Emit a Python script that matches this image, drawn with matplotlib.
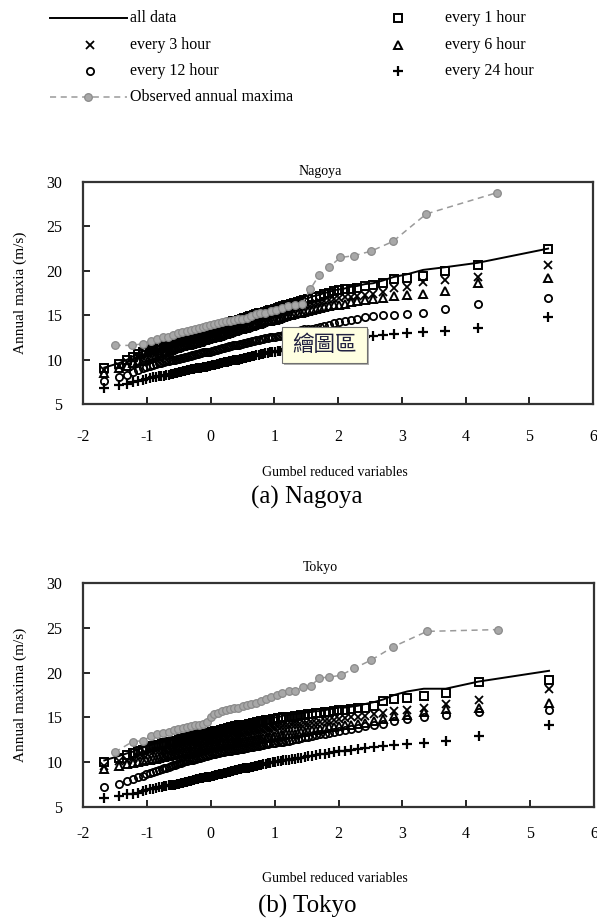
import matplotlib
matplotlib.use('Agg')
import matplotlib.pyplot as plt
from matplotlib.patches import Rectangle

plt.rcParams['font.family'] = ['Liberation Serif', 'DejaVu Serif']
plt.rcParams['axes.unicode_minus'] = False

W, H = 597, 922

# Gumbel reduced variables of the 100 simulated annual maxima
x_sim = [-1.667, -1.435, -1.305, -1.210, -1.132, -1.065, -1.006, -0.952, -0.902, -0.856,
         -0.813, -0.771, -0.732, -0.694, -0.658, -0.623, -0.589, -0.556, -0.523, -0.492,
         -0.460, -0.430, -0.400, -0.370, -0.341, -0.312, -0.284, -0.255, -0.227, -0.200,
         -0.172, -0.144, -0.117, -0.090, -0.062, -0.035, -0.008, 0.019, 0.047, 0.074,
         0.101, 0.128, 0.156, 0.183, 0.211, 0.239, 0.267, 0.295, 0.324, 0.352,
         0.381, 0.410, 0.440, 0.469, 0.499, 0.530, 0.560, 0.592, 0.623, 0.656,
         0.688, 0.721, 0.755, 0.789, 0.824, 0.860, 0.897, 0.934, 0.972, 1.011,
         1.051, 1.092, 1.134, 1.178, 1.223, 1.269, 1.317, 1.367, 1.418, 1.472,
         1.528, 1.587, 1.648, 1.713, 1.781, 1.853, 1.931, 2.014, 2.102, 2.199,
         2.305, 2.421, 2.552, 2.700, 2.872, 3.079, 3.335, 3.677, 4.193, 5.296]

# 45 observed annual maxima
x_obs = [-1.504, -1.224, -1.061, -0.938, -0.834, -0.743, -0.660, -0.583, -0.511, -0.442,
         -0.375, -0.311, -0.248, -0.186, -0.125, -0.064, -0.003, 0.057, 0.118, 0.179,
         0.241, 0.303, 0.367, 0.431, 0.498, 0.566, 0.636, 0.708, 0.784, 0.862,
         0.944, 1.031, 1.123, 1.220, 1.325, 1.439, 1.564, 1.702, 1.858, 2.037,
         2.250, 2.513, 2.861, 3.384, 4.494]

# ---- Nagoya ----
nag_all = [9.1, 9.6, 10.0, 10.4, 10.7, 10.9, 11.1, 11.2, 11.3, 11.5,
           11.6, 11.7, 11.8, 11.9, 12.0, 12.1, 12.2, 12.3, 12.4, 12.4,
           12.5, 12.6, 12.6, 12.7, 12.8, 12.8, 12.9, 13.0, 13.0, 13.1,
           13.1, 13.2, 13.3, 13.3, 13.4, 13.4, 13.5, 13.5, 13.6, 13.7,
           13.7, 13.8, 13.9, 13.9, 14.0, 14.1, 14.1, 14.2, 14.3, 14.4,
           14.4, 14.5, 14.6, 14.6, 14.7, 14.8, 14.8, 14.9, 15.0, 15.0,
           15.1, 15.2, 15.3, 15.3, 15.4, 15.5, 15.6, 15.7, 15.7, 15.8,
           15.9, 16.0, 16.1, 16.2, 16.3, 16.4, 16.5, 16.6, 16.7, 16.8,
           16.9, 17.1, 17.2, 17.3, 17.5, 17.6, 17.8, 17.9, 18.0, 18.2,
           18.3, 18.5, 18.6, 18.9, 19.3, 19.6, 20.1, 20.4, 20.9, 22.5]
nag_1h = [9.0, 9.5, 9.9, 10.3, 10.6, 10.8, 11.0, 11.1, 11.2, 11.4,
          11.5, 11.6, 11.7, 11.8, 11.9, 12.0, 12.1, 12.2, 12.3, 12.3,
          12.4, 12.5, 12.5, 12.6, 12.7, 12.7, 12.8, 12.9, 12.9, 13.0,
          13.0, 13.1, 13.2, 13.2, 13.3, 13.3, 13.4, 13.4, 13.5, 13.6,
          13.6, 13.7, 13.8, 13.8, 13.9, 14.0, 14.0, 14.1, 14.2, 14.3,
          14.3, 14.4, 14.5, 14.5, 14.6, 14.7, 14.7, 14.8, 14.9, 14.9,
          15.0, 15.1, 15.2, 15.2, 15.3, 15.4, 15.5, 15.6, 15.6, 15.7,
          15.8, 15.9, 16.0, 16.1, 16.2, 16.3, 16.4, 16.5, 16.6, 16.7,
          16.8, 17.0, 17.1, 17.2, 17.4, 17.5, 17.7, 17.8, 17.9, 18.0,
          18.1, 18.3, 18.4, 18.6, 19.1, 19.2, 19.4, 20.0, 20.6, 22.4]
nag_3h = [8.8, 9.3, 9.7, 10.0, 10.3, 10.5, 10.7, 10.8, 10.9, 11.0,
          11.1, 11.2, 11.3, 11.4, 11.5, 11.6, 11.7, 11.8, 11.9, 11.9,
          12.0, 12.1, 12.1, 12.2, 12.3, 12.3, 12.4, 12.5, 12.5, 12.6,
          12.7, 12.7, 12.8, 12.8, 12.9, 12.9, 13.0, 13.1, 13.1, 13.2,
          13.2, 13.3, 13.4, 13.4, 13.5, 13.5, 13.6, 13.7, 13.7, 13.8,
          13.9, 13.9, 14.0, 14.1, 14.1, 14.2, 14.3, 14.3, 14.4, 14.5,
          14.5, 14.6, 14.7, 14.7, 14.8, 14.9, 15.0, 15.0, 15.1, 15.1,
          15.2, 15.3, 15.4, 15.5, 15.6, 15.7, 15.8, 15.9, 16.0, 16.1,
          16.2, 16.3, 16.4, 16.5, 16.6, 16.7, 16.8, 16.9, 17.0, 17.1,
          17.2, 17.3, 17.4, 17.6, 18.1, 18.2, 18.7, 19.0, 19.3, 20.7]
nag_6h = [8.5, 9.0, 9.3, 9.6, 9.8, 10.0, 10.2, 10.3, 10.4, 10.5,
          10.6, 10.7, 10.8, 10.9, 11.0, 11.1, 11.2, 11.3, 11.3, 11.4,
          11.5, 11.5, 11.6, 11.7, 11.7, 11.8, 11.8, 11.9, 11.9, 12.0,
          12.0, 12.1, 12.2, 12.2, 12.3, 12.3, 12.4, 12.4, 12.5, 12.6,
          12.6, 12.7, 12.7, 12.8, 12.9, 12.9, 13.0, 13.0, 13.1, 13.2,
          13.2, 13.3, 13.4, 13.4, 13.5, 13.6, 13.6, 13.7, 13.8, 13.8,
          13.9, 14.0, 14.0, 14.1, 14.2, 14.3, 14.3, 14.4, 14.5, 14.5,
          14.6, 14.7, 14.8, 14.9, 15.0, 15.0, 15.1, 15.2, 15.3, 15.4,
          15.5, 15.6, 15.7, 15.8, 15.9, 16.0, 16.1, 16.2, 16.3, 16.5,
          16.6, 16.7, 16.8, 16.9, 17.2, 17.3, 17.4, 17.7, 18.6, 19.2]
nag_12h = [7.6, 8.0, 8.3, 8.6, 8.8, 9.0, 9.2, 9.3, 9.4, 9.5,
           9.6, 9.6, 9.7, 9.8, 9.8, 9.9, 10.0, 10.0, 10.1, 10.1,
           10.2, 10.2, 10.3, 10.3, 10.4, 10.4, 10.5, 10.5, 10.6, 10.6,
           10.7, 10.7, 10.8, 10.8, 10.8, 10.9, 10.9, 11.0, 11.0, 11.1,
           11.1, 11.2, 11.2, 11.3, 11.3, 11.4, 11.4, 11.5, 11.5, 11.6,
           11.6, 11.7, 11.7, 11.8, 11.8, 11.9, 11.9, 12.0, 12.0, 12.1,
           12.1, 12.2, 12.2, 12.3, 12.3, 12.4, 12.4, 12.5, 12.5, 12.6,
           12.7, 12.7, 12.8, 12.9, 12.9, 13.0, 13.1, 13.2, 13.3, 13.4,
           13.4, 13.5, 13.6, 13.7, 13.8, 13.9, 14.1, 14.2, 14.3, 14.5,
           14.6, 14.8, 14.9, 15.0, 15.0, 15.1, 15.2, 15.7, 16.3, 16.9]
nag_24h = [6.8, 7.1, 7.3, 7.5, 7.6, 7.7, 7.8, 7.9, 8.0, 8.0,
           8.1, 8.2, 8.2, 8.3, 8.3, 8.4, 8.4, 8.5, 8.5, 8.6,
           8.6, 8.7, 8.7, 8.8, 8.8, 8.9, 8.9, 8.9, 9.0, 9.0,
           9.1, 9.1, 9.2, 9.2, 9.2, 9.3, 9.3, 9.4, 9.4, 9.4,
           9.5, 9.5, 9.6, 9.6, 9.7, 9.7, 9.7, 9.8, 9.8, 9.9,
           9.9, 10.0, 10.0, 10.1, 10.1, 10.2, 10.2, 10.3, 10.3, 10.4,
           10.4, 10.5, 10.5, 10.6, 10.6, 10.7, 10.7, 10.8, 10.8, 10.9,
           11.0, 11.0, 11.1, 11.2, 11.2, 11.3, 11.4, 11.4, 11.5, 11.6,
           11.7, 11.7, 11.8, 11.9, 12.0, 12.0, 12.1, 12.2, 12.3, 12.4,
           12.5, 12.6, 12.7, 12.8, 12.9, 13.0, 13.1, 13.2, 13.6, 14.8]
nag_obs = [11.6, 11.6, 11.8, 12.1, 12.3, 12.5, 12.6, 12.8, 13.0, 13.1,
           13.2, 13.3, 13.5, 13.6, 13.7, 13.8, 13.9, 14.0, 14.1, 14.2,
           14.3, 14.4, 14.5, 14.6, 14.6, 14.7, 14.9, 15.1, 15.2, 15.3,
           15.5, 15.6, 15.8, 16.0, 16.1, 16.3, 17.9, 19.5, 20.4, 21.5,
           21.7, 22.2, 23.3, 26.4, 28.8]

# ---- Tokyo ----
tok_all = [10.2, 10.7, 11.0, 11.2, 11.4, 11.6, 11.8, 11.9, 12.0, 12.1,
           12.1, 12.2, 12.3, 12.3, 12.4, 12.5, 12.5, 12.6, 12.6, 12.7,
           12.8, 12.8, 12.9, 12.9, 13.0, 13.0, 13.1, 13.1, 13.2, 13.2,
           13.3, 13.3, 13.3, 13.4, 13.4, 13.5, 13.5, 13.6, 13.6, 13.7,
           13.7, 13.7, 13.8, 13.8, 13.9, 13.9, 14.0, 14.0, 14.1, 14.1,
           14.2, 14.2, 14.3, 14.3, 14.3, 14.4, 14.4, 14.5, 14.5, 14.6,
           14.6, 14.7, 14.7, 14.8, 14.8, 14.9, 14.9, 14.9, 15.0, 15.0,
           15.1, 15.1, 15.2, 15.2, 15.3, 15.3, 15.4, 15.4, 15.5, 15.5,
           15.6, 15.6, 15.7, 15.7, 15.8, 15.9, 16.0, 16.1, 16.1, 16.2,
           16.3, 16.5, 16.7, 17.0, 17.5, 17.9, 18.2, 18.2, 19.0, 20.2]
tok_1h = [10.0, 10.5, 10.8, 11.0, 11.2, 11.4, 11.6, 11.7, 11.8, 11.9,
          11.9, 12.0, 12.1, 12.1, 12.2, 12.3, 12.3, 12.4, 12.4, 12.5,
          12.6, 12.6, 12.7, 12.7, 12.8, 12.8, 12.9, 12.9, 13.0, 13.0,
          13.1, 13.1, 13.1, 13.2, 13.2, 13.3, 13.3, 13.4, 13.4, 13.5,
          13.5, 13.5, 13.6, 13.6, 13.7, 13.7, 13.8, 13.8, 13.9, 13.9,
          14.0, 14.0, 14.1, 14.1, 14.1, 14.2, 14.2, 14.3, 14.3, 14.4,
          14.4, 14.5, 14.5, 14.6, 14.6, 14.7, 14.7, 14.7, 14.8, 14.8,
          14.9, 14.9, 15.0, 15.0, 15.1, 15.1, 15.2, 15.2, 15.3, 15.3,
          15.4, 15.4, 15.5, 15.5, 15.6, 15.6, 15.7, 15.8, 15.8, 15.9,
          16.0, 16.1, 16.3, 16.8, 17.1, 17.2, 17.4, 17.7, 18.9, 19.2]
tok_3h = [9.6, 10.1, 10.3, 10.5, 10.7, 10.8, 11.0, 11.1, 11.1, 11.2,
          11.3, 11.3, 11.4, 11.4, 11.5, 11.5, 11.6, 11.6, 11.7, 11.8,
          11.8, 11.9, 11.9, 12.0, 12.0, 12.1, 12.1, 12.2, 12.2, 12.3,
          12.3, 12.4, 12.4, 12.5, 12.5, 12.5, 12.6, 12.6, 12.7, 12.7,
          12.7, 12.8, 12.8, 12.8, 12.9, 12.9, 12.9, 13.0, 13.0, 13.1,
          13.1, 13.1, 13.2, 13.2, 13.2, 13.3, 13.3, 13.3, 13.4, 13.4,
          13.5, 13.5, 13.5, 13.6, 13.6, 13.7, 13.7, 13.7, 13.8, 13.8,
          13.9, 13.9, 14.0, 14.0, 14.0, 14.1, 14.1, 14.2, 14.2, 14.3,
          14.3, 14.4, 14.4, 14.5, 14.6, 14.6, 14.7, 14.8, 14.9, 15.0,
          15.1, 15.2, 15.4, 15.5, 15.7, 15.8, 16.1, 16.5, 16.9, 18.2]
tok_6h = [9.2, 9.6, 9.8, 9.9, 10.0, 10.1, 10.2, 10.3, 10.4, 10.4,
          10.5, 10.6, 10.6, 10.7, 10.7, 10.8, 10.8, 10.9, 10.9, 11.0,
          11.0, 11.1, 11.1, 11.2, 11.2, 11.3, 11.3, 11.4, 11.4, 11.5,
          11.5, 11.6, 11.6, 11.7, 11.7, 11.7, 11.8, 11.8, 11.8, 11.9,
          11.9, 11.9, 12.0, 12.0, 12.0, 12.1, 12.1, 12.1, 12.2, 12.2,
          12.2, 12.3, 12.3, 12.3, 12.3, 12.4, 12.4, 12.4, 12.5, 12.5,
          12.5, 12.6, 12.6, 12.6, 12.7, 12.7, 12.8, 12.8, 12.8, 12.9,
          12.9, 13.0, 13.0, 13.1, 13.1, 13.2, 13.2, 13.3, 13.4, 13.4,
          13.5, 13.6, 13.6, 13.7, 13.8, 13.9, 13.9, 14.0, 14.1, 14.2,
          14.3, 14.4, 14.6, 14.8, 15.2, 15.3, 15.6, 15.9, 16.1, 16.6]
tok_12h = [7.2, 7.6, 7.9, 8.1, 8.3, 8.5, 8.7, 8.8, 8.9, 9.0,
           9.1, 9.2, 9.3, 9.4, 9.5, 9.6, 9.7, 9.7, 9.8, 9.9,
           9.9, 10.0, 10.1, 10.1, 10.2, 10.3, 10.3, 10.4, 10.4, 10.5,
           10.5, 10.6, 10.6, 10.7, 10.7, 10.8, 10.8, 10.9, 10.9, 10.9,
           11.0, 11.0, 11.1, 11.1, 11.1, 11.2, 11.2, 11.3, 11.3, 11.4,
           11.4, 11.4, 11.5, 11.5, 11.5, 11.6, 11.6, 11.7, 11.7, 11.7,
           11.8, 11.8, 11.8, 11.9, 11.9, 12.0, 12.0, 12.1, 12.1, 12.1,
           12.2, 12.3, 12.3, 12.4, 12.4, 12.5, 12.6, 12.6, 12.7, 12.8,
           12.8, 12.9, 13.0, 13.1, 13.2, 13.3, 13.4, 13.5, 13.6, 13.7,
           13.8, 14.0, 14.1, 14.3, 14.6, 14.8, 15.0, 15.3, 15.6, 15.8]
tok_24h = [6.0, 6.2, 6.4, 6.5, 6.6, 6.8, 6.9, 7.0, 7.0, 7.1,
           7.2, 7.2, 7.3, 7.3, 7.4, 7.4, 7.5, 7.5, 7.6, 7.6,
           7.7, 7.7, 7.8, 7.8, 7.9, 7.9, 8.0, 8.0, 8.1, 8.1,
           8.2, 8.2, 8.2, 8.3, 8.3, 8.4, 8.4, 8.5, 8.5, 8.6,
           8.6, 8.7, 8.7, 8.7, 8.8, 8.8, 8.9, 8.9, 9.0, 9.0,
           9.1, 9.1, 9.2, 9.2, 9.3, 9.3, 9.4, 9.4, 9.5, 9.5,
           9.6, 9.6, 9.7, 9.7, 9.8, 9.8, 9.9, 9.9, 10.0, 10.0,
           10.1, 10.1, 10.2, 10.3, 10.3, 10.4, 10.4, 10.5, 10.5, 10.6,
           10.7, 10.7, 10.8, 10.9, 10.9, 11.0, 11.1, 11.2, 11.3, 11.4,
           11.5, 11.6, 11.7, 11.8, 11.9, 12.0, 12.1, 12.4, 12.9, 14.2]
tok_obs = [11.1, 12.3, 12.4, 12.9, 13.1, 13.3, 13.4, 13.6, 13.7, 13.8,
           13.9, 14.0, 14.1, 14.2, 14.3, 14.5, 15.0, 15.4, 15.5, 15.7,
           15.8, 15.9, 16.0, 16.1, 16.3, 16.4, 16.5, 16.6, 16.8, 17.1,
           17.3, 17.5, 17.7, 17.9, 18.0, 18.4, 18.5, 19.4, 19.5, 19.7,
           20.5, 21.4, 22.9, 24.6, 24.8]

series_names = ['all data', 'every 1 hour', 'every 3 hour', 'every 6 hour',
                'every 12 hour', 'every 24 hour', 'Observed annual maxima']
x_ticks = [-2, -1, 0, 1, 2, 3, 4, 5, 6]
y_ticks = [5, 10, 15, 20, 25, 30]

# marker styles for the sampled series: 1h, 3h, 6h, 12h, 24h
styles = [dict(marker='s', ms=5.4, mew=1.4),
          dict(marker='x', ms=6.0, mew=1.3),
          dict(marker='^', ms=5.6, mew=1.4),
          dict(marker='o', ms=5.2, mew=1.3),
          dict(marker='+', ms=7.5, mew=1.6)]
obs_style = dict(color='#9a9a9a', ls=(0, (4, 3)), lw=1.1, marker='o', ms=5.5,
                 mfc='#a8a8a8', mec='#8a8a8a', mew=0.9)


def fx(x):
    return x / W


def fy(y):
    return 1 - y / H


fig = plt.figure(figsize=(W / 100, H / 100), dpi=100)


def panel(top, bottom, right, xpad, title, title_y, ylabel, xlab_y, caption, cap_y,
          all_data, sims, obs):
    ax = fig.add_axes([fx(83), fy(bottom), fx(right) - fx(83), fy(top) - fy(bottom)])
    ax.plot(x_sim, all_data, color='black', lw=1.4, zorder=2)
    for s, st in zip(sims, styles):
        ax.plot(x_sim, s, ls='none', mfc='none', mec='black', color='black', zorder=3, **st)
    ax.plot(x_obs, obs, zorder=4, **obs_style)
    ax.set_xlim(-2, 6)
    ax.set_ylim(5, 30)
    ax.set_xticks(x_ticks)
    ax.set_yticks(y_ticks)
    ax.set_xticklabels([str(t) for t in x_ticks])
    ax.tick_params(direction='in', length=5, width=1.2, labelsize=11.5)
    ax.tick_params(axis='x', pad=xpad)
    ax.tick_params(axis='y', pad=15)
    for sp in ax.spines.values():
        sp.set_linewidth(1.6)
        sp.set_color('#333333')
    fig.text(fx(320), fy(title_y), title, ha='center', va='center', fontsize=10)
    fig.text(fx(20), fy((top + bottom) / 2), ylabel, rotation=90, ha='center',
             va='center', fontsize=11)
    fig.text(fx(335), fy(xlab_y), 'Gumbel reduced variables', ha='center',
             va='center', fontsize=10)
    fig.text(fx(307), fy(cap_y), caption, ha='center', va='center', fontsize=18)
    return ax


panel(182, 404, 593, 18, 'Nagoya', 172, 'Annual maxia (m/s)', 472, '(a) Nagoya', 497,
      nag_all, [nag_1h, nag_3h, nag_6h, nag_12h, nag_24h], nag_obs)
panel(583, 807, 594, 14, 'Tokyo', 567, 'Annual maxima (m/s)', 878, '(b) Tokyo', 906,
      tok_all, [tok_1h, tok_3h, tok_6h, tok_12h, tok_24h], tok_obs)

# legend drawn on its own pixel-coordinate axes at the top
lg = fig.add_axes([0, fy(110), 1, 110 / H])
lg.set_xlim(0, W)
lg.set_ylim(110, 0)
lg.axis('off')
lg.plot([50, 127], [18, 18], color='black', lw=1.4)
lg.text(130, 18, series_names[0], va='center', fontsize=11.5)
pos = [(398, 18), (90, 45), (398, 45), (90, 71), (398, 71)]
for i, (st, (px, py)) in enumerate(zip(styles, pos)):
    lg.plot([px], [py], ls='none', mfc='none', mec='black', color='black', **st)
    lg.text(px + (47 if px > 300 else 40), py, series_names[i + 1], va='center', fontsize=11.5)
lg.plot([50, 127], [97, 97], color='#9a9a9a', ls=(0, (4, 3)), lw=1.1)
lg.plot([88], [97], ls='none', marker='o', ms=5.5, mfc='#a8a8a8', mec='#8a8a8a', mew=0.9)
lg.text(130, 97, series_names[6], va='center', fontsize=11.5)

# the "plot area" tooltip captured in the screenshot
fig.patches.append(Rectangle((fx(284), fy(365)), (367 - 282) / W, 36 / H,
                             transform=fig.transFigure, facecolor='#b0b0b0',
                             edgecolor='none', zorder=10))
fig.patches.append(Rectangle((fx(282), fy(363)), (367 - 282) / W, 36 / H,
                             transform=fig.transFigure, facecolor='#ffffe1',
                             edgecolor='#707070', lw=0.8, zorder=11))
fig.text(fx(324.5), fy(345), '繪圖區', ha='center', va='center', fontsize=15.5,
         family=['Noto Sans CJK TC', 'DejaVu Sans'], color='#202040', zorder=12)

fig.savefig('out.png', dpi=100)
